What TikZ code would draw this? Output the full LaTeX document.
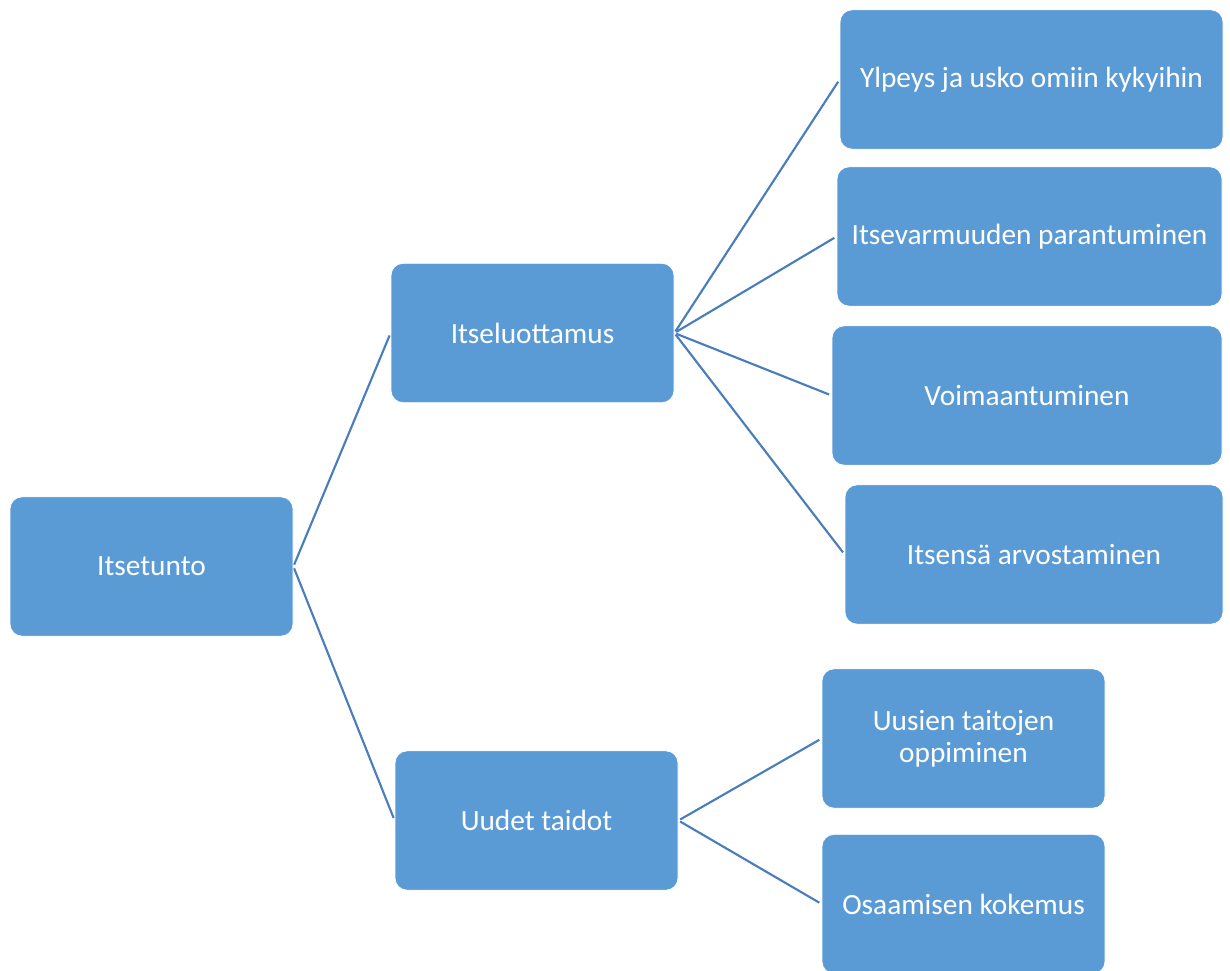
\documentclass[tikz,border=0pt]{standalone}
\usepackage{fontspec}
\setmainfont{Carlito}
\definecolor{boxblue}{HTML}{5B9BD5}
\definecolor{lineblue}{HTML}{4A7EBB}
\begin{document}
\begin{tikzpicture}[x=0.75pt,y=-0.75pt,
  box/.style={fill=boxblue,draw=white,line width=0.6pt,rounded corners=9pt,text=white,
    font=\fontsize{22}{24}\selectfont,align=center,inner sep=0pt,
    minimum height=104.5pt},
  w283/.style={minimum width=212.25pt},
  link/.style={draw=lineblue,line width=1.6pt,shorten <=1.5pt,shorten >=2pt}]
\clip (0,0) rectangle (1230,970);
\useasboundingbox (0,0) rectangle (1230,970);
\node[box,w283] (root) at (151.5,566.5) {Itsetunto};
\node[box,w283] (conf) at (532.5,333) {Itseluottamus};
\node[box,w283] (skills) at (536.5,820.5) {Uudet taidot};
\node[box,minimum width=287.25pt] (c1) at (1031.5,79.5) {Ylpeys ja usko omiin kykyihin};
\node[box,minimum width=288.75pt] (c2) at (1029.5,236.5) {Itsevarmuuden parantuminen};
\node[box,minimum width=292.5pt] (c3) at (1027,395.5) {Voimaantuminen};
\node[box,minimum width=283.5pt] (c4) at (1034,554.5) {Itsensä arvostaminen};
\node[box,w283] (s1) at (963.5,738.5) {Uusien taitojen\\oppiminen};
\node[box,w283] (s2) at (963.5,904) {Osaamisen kokemus};
\draw[link] (root.east) -- (conf.west);
\draw[link] (root.east) -- (skills.west);
\draw[link] (conf.east) -- (c1.west);
\draw[link] (conf.east) -- (c2.west);
\draw[link] (conf.east) -- (c3.west);
\draw[link] (conf.east) -- (c4.west);
\draw[link] (skills.east) -- (s1.west);
\draw[link] (skills.east) -- (s2.west);
\end{tikzpicture}
\end{document}
